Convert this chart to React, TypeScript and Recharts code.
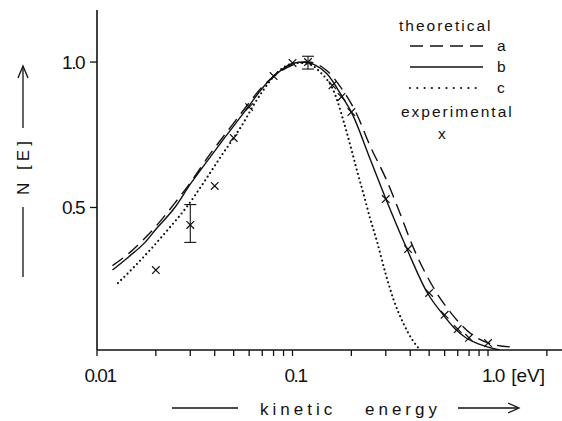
import React from 'react';
import { ComposedChart, Line, Scatter, XAxis, YAxis, ErrorBar, Legend } from 'recharts';

const NUM_FONT = '"Liberation Sans Narrow", "Liberation Sans", Arial, sans-serif';
const TEXT_FONT = '"Liberation Sans", Arial, sans-serif';
const INK = '#111';

// theoretical curve a (dashed)
const energyA = [0.012, 0.015, 0.0176, 0.02, 0.025, 0.03, 0.038, 0.045, 0.052, 0.06, 0.07, 0.08, 0.1, 0.12, 0.15, 0.18, 0.21, 0.25, 0.3, 0.35, 0.41, 0.52, 0.66, 0.84, 1.05, 1.33];
const valuesA = [0.3, 0.35, 0.395, 0.435, 0.515, 0.585, 0.685, 0.75, 0.805, 0.86, 0.915, 0.95, 0.99, 1.0, 0.97, 0.905, 0.83, 0.71, 0.6, 0.49, 0.37, 0.23, 0.13, 0.06, 0.03, 0.02];

// theoretical curve b (solid)
const energyB = [0.012, 0.0145, 0.0176, 0.02, 0.025, 0.03, 0.038, 0.045, 0.052, 0.06, 0.07, 0.08, 0.1, 0.115, 0.13, 0.15, 0.18, 0.2, 0.25, 0.3, 0.385, 0.49, 0.59, 0.68, 0.77, 0.9, 1.0, 1.15];
const valuesB = [0.285, 0.33, 0.38, 0.425, 0.5, 0.58, 0.674, 0.74, 0.795, 0.85, 0.91, 0.95, 0.995, 1.0, 0.99, 0.96, 0.88, 0.828, 0.665, 0.53, 0.357, 0.206, 0.131, 0.082, 0.052, 0.03, 0.02, 0.01];

// theoretical curve c (dotted)
const energyC = [0.0128, 0.0155, 0.0187, 0.023, 0.029, 0.035, 0.044, 0.05, 0.056, 0.063, 0.071, 0.08, 0.089, 0.1, 0.109, 0.125, 0.138, 0.15, 0.16, 0.17, 0.18, 0.19, 0.2, 0.215, 0.23, 0.25, 0.27, 0.3, 0.33, 0.37, 0.41, 0.45];
const valuesC = [0.24, 0.296, 0.354, 0.423, 0.505, 0.584, 0.685, 0.739, 0.79, 0.85, 0.904, 0.95, 0.979, 0.995, 0.997, 0.99, 0.966, 0.94, 0.91, 0.865, 0.81, 0.755, 0.7, 0.62, 0.55, 0.46, 0.385, 0.27, 0.18, 0.1, 0.045, 0.01];

// experimental points
const expEnergy = [0.02, 0.04, 0.05, 0.06, 0.08, 0.1, 0.16, 0.178, 0.2, 0.3, 0.39, 0.5, 0.6, 0.7, 0.8, 1.0];
const expValues = [0.285, 0.574, 0.739, 0.845, 0.952, 0.997, 0.92, 0.88, 0.828, 0.529, 0.357, 0.206, 0.131, 0.082, 0.052, 0.034];

// experimental points with error bars, [below, above]
const errEnergy = [0.03, 0.12];
const errValues = [0.44, 1.0];
const errRanges = [[0.06, 0.07], [0.024, 0.02]];

const xTicks = [0.01, 0.02, 0.03, 0.04, 0.05, 0.06, 0.07, 0.08, 0.09, 0.1, 0.2, 0.3, 0.4, 0.5, 0.6, 0.7, 0.8, 0.9, 1, 2];
const xLabels: Record<string, string> = { '0.01': '0.01', '0.1': '0.1', '1': '1.0' };
const yTicks = [0.5, 1.0];

const legendRows = [
  { key: 'a', dash: '13 7', width: 1.4, cap: 'butt' },
  { key: 'b', dash: undefined, width: 1.4, cap: 'butt' },
  { key: 'c', dash: '0 7.3', width: 2.2, cap: 'round' },
];

const toPoints = (xs: number[], ys: number[]) => xs.map((e, i) => ({ e, n: ys[i] }));
const curveA = toPoints(energyA, valuesA);
const curveB = toPoints(energyB, valuesB);
const curveC = toPoints(energyC, valuesC);
const expData = toPoints(expEnergy, expValues);
const errData = errEnergy.map((e, i) => ({ e, n: errValues[i], err: errRanges[i] }));

const Cross = (props: any) => {
  const { cx, cy } = props;
  if (cx == null || cy == null) return null;
  const s = 3.8;
  return (
    <g stroke={INK} strokeWidth={1.2}>
      <line x1={cx - s} y1={cy - s} x2={cx + s} y2={cy + s} />
      <line x1={cx - s} y1={cy + s} x2={cx + s} y2={cy - s} />
    </g>
  );
};

const XTick = ({ x, y, payload }: any) => {
  const label = xLabels[String(payload.value)];
  if (!label) return null;
  if (label === '1.0') {
    return (
      <g fontFamily={NUM_FONT} fontSize={19} fill={INK} letterSpacing={-1.5}>
        <text x={x - 6} y={y + 24} textAnchor="start">1.0</text>
        <text x={x + 57} y={y + 24} textAnchor="end" letterSpacing={0}>[eV]</text>
      </g>
    );
  }
  return (
    <text x={x + 3} y={y + 24} textAnchor="middle" fontFamily={NUM_FONT} fontSize={19} fill={INK} letterSpacing={-1.5}>
      {label}
    </text>
  );
};

const YTick = ({ x, y, payload }: any) => (
  <text x={x - 4} y={y + 7} textAnchor="end" fontFamily={NUM_FONT} fontSize={19} fill={INK} letterSpacing={-1.5}>
    {payload.value.toFixed(1)}
  </text>
);

const XTitle = () => (
  <g stroke={INK} strokeWidth={1.3} fill="none">
    <line x1={172} y1={408} x2={238} y2={408} />
    <text x={260} y={415} stroke="none" fill={INK} fontFamily={TEXT_FONT} fontSize={17} letterSpacing={4}>kinetic</text>
    <text x={365} y={415} stroke="none" fill={INK} fontFamily={TEXT_FONT} fontSize={17} letterSpacing={4}>energy</text>
    <line x1={458} y1={408} x2={518} y2={408} />
    <path d="M508,403 L519,408 L508,413" />
  </g>
);

const YTitle = () => (
  <g stroke={INK} strokeWidth={1.3} fill="none">
    <line x1={23} y1={277} x2={23} y2={207} />
    <text transform="translate(29,166) rotate(-90)" textAnchor="middle" stroke="none" fill={INK} fontFamily={TEXT_FONT} fontSize={17} letterSpacing={4}>N [E]</text>
    <line x1={23} y1={128} x2={23} y2={67} />
    <path d="M18,78 L23,66 L28,78" />
  </g>
);

const LegendBox = () => (
  <svg width={562} height={150} style={{ display: 'block' }}>
    <g fontFamily={TEXT_FONT} fontSize={15.5} fill={INK} letterSpacing={2}>
      <text x={399} y={31}>theoretical</text>
      {legendRows.map((row, i) => {
        const y = 46 + i * 21;
        return (
          <g key={row.key}>
            <line x1={410} y1={y} x2={483} y2={y} stroke={INK} strokeWidth={row.width} strokeDasharray={row.dash} strokeLinecap={row.cap as any} />
            <text x={497} y={y + 5}>{row.key}</text>
          </g>
        );
      })}
      <text x={401} y={117}>experimental</text>
      <text x={438} y={139}>x</text>
    </g>
  </svg>
);

export default function App() {
  return (
    <div style={{ position: 'absolute', left: 0, top: 0, width: 562, height: 421, background: '#fff' }}>
      <ComposedChart width={562} height={421} margin={{ top: 10, right: 0, left: 57, bottom: 41 }}>
        <XAxis
          dataKey="e"
          type="number"
          scale="log"
          domain={[0.01, 2.39]}
          allowDataOverflow
          ticks={xTicks}
          interval={0}
          height={30}
          tickSize={6}
          axisLine={{ stroke: INK, strokeWidth: 1.6 }}
          tickLine={{ stroke: INK, strokeWidth: 1.3 }}
          tick={<XTick />}
          label={<XTitle />}
        />
        <YAxis
          dataKey="n"
          type="number"
          domain={[0.01, 1.179]}
          allowDataOverflow
          ticks={yTicks}
          width={40}
          tickSize={7}
          axisLine={{ stroke: INK, strokeWidth: 1.6 }}
          tickLine={{ stroke: INK, strokeWidth: 1.3 }}
          tick={<YTick />}
          label={<YTitle />}
        />
        <Legend layout="vertical" align="center" verticalAlign="middle" wrapperStyle={{ left: 0, top: 0, width: 562 }} content={() => <LegendBox />} />
        <Line data={curveA} dataKey="n" name="a" type="monotone" dot={false} activeDot={false} stroke={INK} strokeWidth={1.4} strokeDasharray="13 7" isAnimationActive={false} />
        <Line data={curveB} dataKey="n" name="b" type="monotone" dot={false} activeDot={false} stroke={INK} strokeWidth={1.4} isAnimationActive={false} />
        <Line data={curveC} dataKey="n" name="c" type="monotone" dot={false} activeDot={false} stroke={INK} strokeWidth={2.2} strokeDasharray="0 4.5" strokeLinecap="round" isAnimationActive={false} />
        <Scatter data={expData} dataKey="n" name="experimental" shape={<Cross />} isAnimationActive={false} />
        <Scatter data={errData} dataKey="n" name="experimental err" shape={<Cross />} isAnimationActive={false}>
          <ErrorBar dataKey="err" direction="y" width={6} stroke={INK} strokeWidth={1.1} isAnimationActive={false} />
        </Scatter>
      </ComposedChart>
    </div>
  );
}
